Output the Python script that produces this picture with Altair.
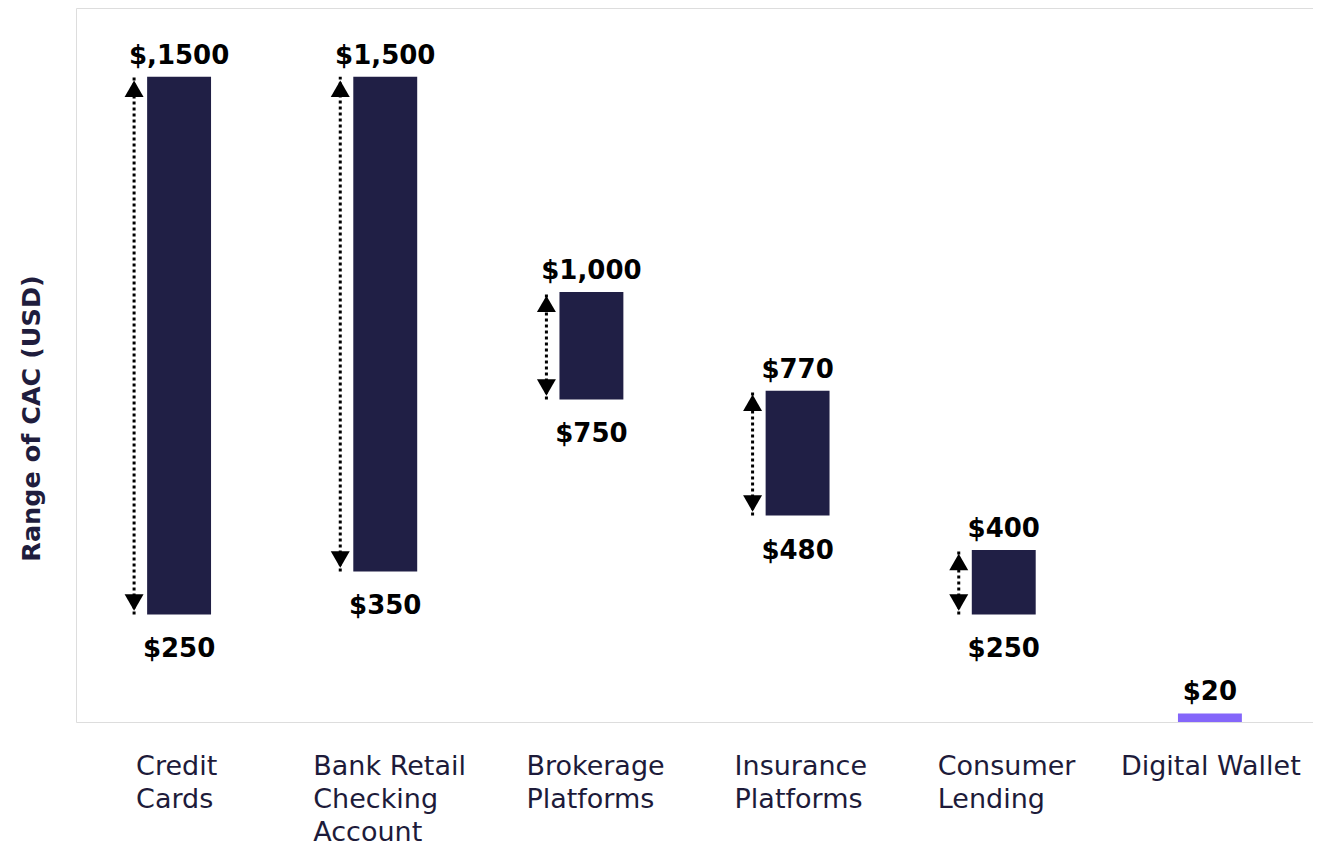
import altair as alt
import pandas as pd

# ---- data ----
categories = ["Credit Cards", "Bank Retail Checking Account", "Brokerage Platforms",
              "Insurance Platforms", "Consumer Lending", "Digital Wallet"]
axis_lines = ["Credit\nCards", "Bank Retail\nChecking\nAccount", "Brokerage\nPlatforms",
              "Insurance\nPlatforms", "Consumer\nLending", "Digital Wallet"]
low_values = [250, 350, 750, 480, 250, 0]
high_values = [1500, 1500, 1000, 770, 400, 20]
top_labels = ["$,1500", "$1,500", "$1,000", "$770", "$400", "$20"]
bottom_labels = ["$250", "$350", "$750", "$480", "$250", ""]
has_arrow = [True, True, True, True, True, False]

df = pd.DataFrame({
    "category": categories,
    "xlabel": axis_lines,
    "low": low_values,
    "high": high_values,
    "top_label": top_labels,
    "bottom_label": bottom_labels,
    "arrow": has_arrow,
})

NAVY = "#201F45"
PURPLE = "#8466FA"
FONT = "DejaVu Sans"

x_enc = alt.X("category:N", sort=categories,
              scale=alt.Scale(paddingInner=0.69, paddingOuter=0.345),
              axis=None)
y_scale = alt.Scale(domain=[0, 1660], nice=False, zero=True)

base = alt.Chart(df)

bars = base.mark_bar().encode(
    x=x_enc,
    y=alt.Y("low:Q", scale=y_scale,
            axis=alt.Axis(title="Range of CAC (USD)", labels=False, ticks=False,
                          domain=False, grid=False, titleFont=FONT,
                          titleFontSize=25.5, titleFontWeight="bold",
                          titleColor="#1f1d3d", titlePadding=32, titleY=410)),
    y2="high:Q",
    color=alt.condition(alt.datum.category == "Digital Wallet",
                        alt.value(PURPLE), alt.value(NAVY)),
)

arrows_base = base.transform_filter(alt.datum.arrow == True)

arrow_line = arrows_base.mark_rule(
    xOffset=-45, strokeWidth=3, strokeDash=[3, 3], color="black"
).encode(x=x_enc, y=alt.Y("low:Q", scale=y_scale), y2="high:Q")

arrow_top = arrows_base.mark_point(
    shape="triangle-up", filled=True, size=360, color="black", opacity=1,
    xOffset=-45, yOffset=12
).encode(x=x_enc, y=alt.Y("high:Q", scale=y_scale))

arrow_bottom = arrows_base.mark_point(
    shape="triangle-down", filled=True, size=360, color="black", opacity=1,
    xOffset=-45, yOffset=-12
).encode(x=x_enc, y=alt.Y("low:Q", scale=y_scale))

top_text = base.mark_text(
    font=FONT, fontSize=26, fontWeight="bold", color="black",
    baseline="alphabetic", dy=-13
).encode(x=x_enc, y=alt.Y("high:Q", scale=y_scale), text="top_label:N")

bottom_text = base.mark_text(
    font=FONT, fontSize=26, fontWeight="bold", color="black",
    baseline="alphabetic", dy=43
).encode(x=x_enc, y=alt.Y("low:Q", scale=y_scale), text="bottom_label:N")

# category labels: left-aligned lines, block centred under each bar
label_dx = [-43, -72, -65, -63, -66, -89]
label_layers = []
for cat, ddx in zip(categories, label_dx):
    label_layers.append(
        base.transform_filter(alt.datum.category == cat).mark_text(
            font=FONT, fontSize=27, color="#1d1b3a", align="left",
            baseline="alphabetic", lineBreak="\n", lineHeight=33, dx=ddx
        ).encode(x=x_enc, y=alt.value(767), text="xlabel:N")
    )

chart = alt.layer(bars, arrow_line, arrow_top, arrow_bottom, top_text,
                  bottom_text, *label_layers).properties(
    width=1237, height=714,
    padding={"left": 11, "top": 0, "right": 0, "bottom": 0},
).configure_view(stroke="#c8c8c8", strokeWidth=2).configure(background="white")

chart.save("out.html", embed_options={"renderer": "svg", "actions": False})
